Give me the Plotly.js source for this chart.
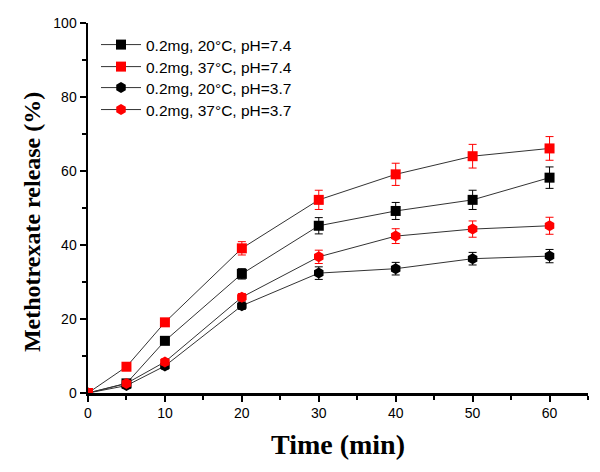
<!DOCTYPE html>
<html>
<head>
<meta charset="utf-8">
<script src="https://cdn.plot.ly/plotly-3.0.1.min.js"></script>
<style>html,body{margin:0;padding:0;background:#fff;}#chart{width:600px;height:472px;}</style>
</head>
<body>
<div id="chart"></div>
<script>
const time = [0, 5, 10, 20, 30, 40, 50, 60];

const names = [
  "0.2mg, 20°C, pH=7.4",
  "0.2mg, 37°C, pH=7.4",
  "0.2mg, 20°C, pH=3.7",
  "0.2mg, 37°C, pH=3.7"
];

const release20_74 = [0, 2.6, 14.1, 32.2, 45.2, 49.2, 52.2, 58.2];
const err20_74     = [0, 0.8, 0.8, 1.4, 2.2, 2.3, 2.6, 2.9];

const release37_74 = [0, 7.1, 19.1, 39.1, 52.2, 59.1, 64.0, 66.1];
const err37_74     = [0, 0.6, 0.8, 1.8, 2.6, 3.0, 3.2, 3.2];

const release20_37 = [0, 2.0, 7.3, 23.6, 32.4, 33.6, 36.3, 37.0];
const err20_37     = [0, 0.8, 0.8, 1.0, 1.7, 1.7, 1.7, 1.8];

const release37_37 = [0, 2.6, 8.4, 25.9, 36.8, 42.4, 44.3, 45.2];
const err37_37     = [0, 0.8, 0.8, 1.0, 1.8, 2.0, 2.2, 2.3];

function mk(name, y, err, color, symbol, leg) {
  return {
    x: time, y: y, name: name, type: 'scatter', mode: 'lines+markers',
    legend: leg,
    line: {color: '#333333', width: 1},
    marker: {color: color, symbol: symbol, size: symbol === 'square' ? 10 : 11},
    error_y: {type: 'data', array: err, visible: true, color: color, thickness: 1, width: 4}
  };
}

const data = [
  mk(names[2], release20_37, err20_37, '#000000', 'hexagon', 'legend3'),
  mk(names[0], release20_74, err20_74, '#000000', 'square', 'legend'),
  mk(names[3], release37_37, err37_37, '#ff0000', 'hexagon', 'legend4'),
  mk(names[1], release37_74, err37_74, '#ff0000', 'square', 'legend2')
];

function leg(y) {
  return {
    x: 0.016, y: y, xanchor: 'left', yanchor: 'middle',
    bgcolor: 'rgba(0,0,0,0)',
    font: {family: 'Liberation Sans, Arial, sans-serif', size: 15.5, color: '#000'},
    itemwidth: 40
  };
}

const axisCommon = {
  showgrid: false, zeroline: false, showline: true, linecolor: '#000', linewidth: 2.5,
  ticks: 'outside', ticklen: 6, tickwidth: 2, tickcolor: '#000',
  tickfont: {family: 'Liberation Sans, Arial, sans-serif', size: 14, color: '#000'}
};

const layout = {
  width: 600, height: 472,
  margin: {l: 88, r: 12, t: 23, b: 79},
  paper_bgcolor: '#fff', plot_bgcolor: '#fff',
  showlegend: true,
  legend: leg(0.9405),
  legend2: leg(0.881),
  legend3: leg(0.8243),
  legend4: leg(0.7649),
  xaxis: Object.assign({}, axisCommon, {
    range: [0, 65], tickvals: [0,10,20,30,40,50,60],
    minor: {ticks: 'outside', ticklen: 4, tickwidth: 2, tickcolor: '#000', tickvals: [5,15,25,35,45,55,65]},
    title: {text: 'Time (min)', standoff: 14, font: {family: 'Liberation Serif, Times New Roman, serif', size: 28, color: '#000', weight: 'bold'}}
  }),
  yaxis: Object.assign({}, axisCommon, {
    range: [0, 100], tickvals: [0,20,40,60,80,100],
    minor: {ticks: 'outside', ticklen: 4, tickwidth: 2, tickcolor: '#000', tickvals: [10,30,50,70,90]}
  }),
  annotations: [{
    text: 'Methotrexate release (%)', xref: 'paper', yref: 'paper',
    x: -0.112, y: 0.462, xanchor: 'center', yanchor: 'middle', textangle: -90, showarrow: false,
    font: {family: 'Liberation Serif, Times New Roman, serif', size: 24, color: '#000', weight: 'bold'}
  }]
};

Plotly.newPlot('chart', data, layout, {displayModeBar: false, staticPlot: true});
</script>
</body>
</html>
